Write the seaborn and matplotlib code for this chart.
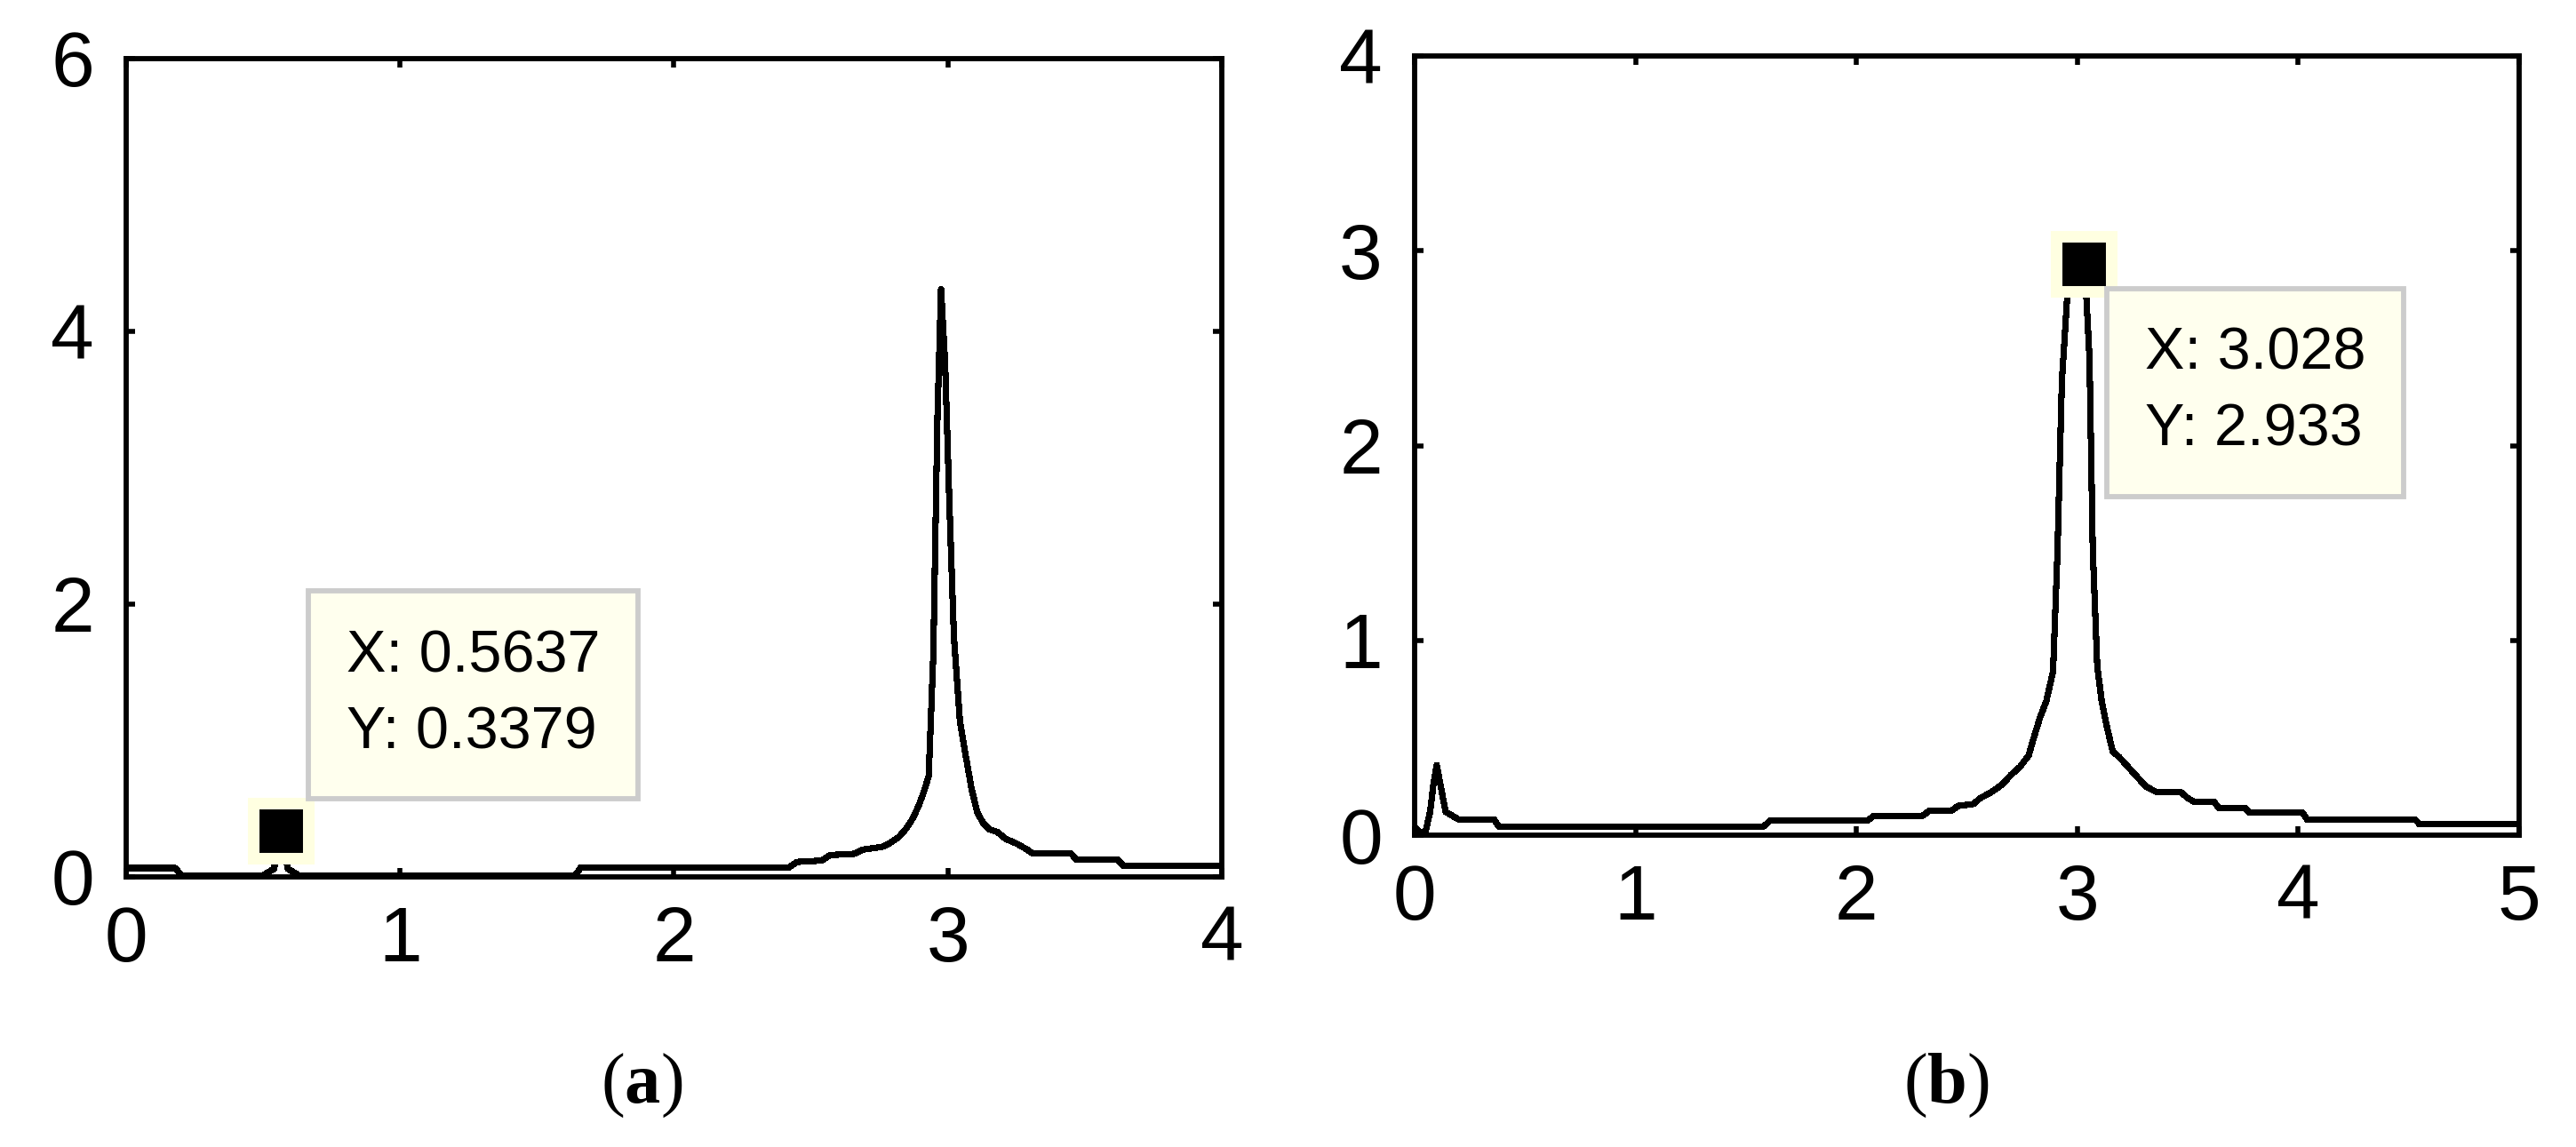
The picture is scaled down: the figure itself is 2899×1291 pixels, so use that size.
import matplotlib
matplotlib.use("Agg")
import matplotlib.pyplot as plt
import pandas as pd
import seaborn as sns

# ---- data ----
# panel (a): spectrum, x 0..4
freq_a = [0.00, 0.18, 0.20, 0.50, 0.54, 0.5637, 0.59, 0.63, 1.64, 1.66,
          2.42, 2.45, 2.54, 2.57, 2.66, 2.69, 2.76, 2.79, 2.82, 2.85,
          2.875, 2.895, 2.915, 2.93, 2.947, 2.962, 2.975, 2.99, 3.005, 3.022,
          3.044, 3.065, 3.087, 3.108, 3.13, 3.15, 3.18, 3.21, 3.25, 3.29,
          3.31, 3.45, 3.47, 3.62, 3.64, 4.00]
amp_a = [0.065, 0.065, 0.012, 0.012, 0.06, 0.3379, 0.06, 0.012, 0.012, 0.07,
         0.07, 0.11, 0.12, 0.16, 0.17, 0.20, 0.22, 0.25, 0.29, 0.36,
         0.44, 0.53, 0.64, 0.74, 1.64, 3.38, 4.31, 3.76, 2.77, 1.76,
         1.14, 0.89, 0.64, 0.47, 0.39, 0.35, 0.33, 0.28, 0.245, 0.20,
         0.17, 0.17, 0.125, 0.125, 0.083, 0.083]
tip_a = (0.5637, 0.3379)

# panel (b): spectrum, x 0..5
freq_b = [0.00, 0.03, 0.05, 0.07, 0.085, 0.10, 0.115, 0.14, 0.17, 0.20,
          0.36, 0.38, 1.58, 1.61, 2.05, 2.08, 2.30, 2.33, 2.43, 2.46,
          2.53, 2.56, 2.61, 2.66, 2.70, 2.74, 2.78, 2.80, 2.83, 2.86,
          2.89, 2.91, 2.93, 2.955, 3.028, 3.04, 3.055, 3.07, 3.09, 3.11,
          3.135, 3.16, 3.19, 3.23, 3.27, 3.31, 3.36, 3.47, 3.50, 3.53,
          3.62, 3.64, 3.76, 3.78, 4.02, 4.04, 4.53, 4.55, 5.00]
amp_b = [0.04, 0.01, 0.02, 0.12, 0.26, 0.36, 0.27, 0.12, 0.10, 0.08,
         0.08, 0.045, 0.045, 0.075, 0.075, 0.10, 0.10, 0.125, 0.125, 0.15,
         0.16, 0.19, 0.22, 0.26, 0.31, 0.35, 0.41, 0.49, 0.60, 0.69,
         0.84, 1.45, 2.33, 2.78, 2.933, 2.78, 2.45, 1.46, 0.87, 0.69,
         0.55, 0.43, 0.40, 0.35, 0.30, 0.25, 0.22, 0.22, 0.19, 0.17,
         0.17, 0.14, 0.14, 0.115, 0.115, 0.08, 0.08, 0.055, 0.055]
tip_b = (3.028, 2.933)

xticks_a = [0, 1, 2, 3, 4]
yticks_a = [0, 2, 4, 6]
xticks_b = [0, 1, 2, 3, 4, 5]
yticks_b = [0, 1, 2, 3, 4]
panel_names = ["a", "b"]

sns.set_theme(style="ticks")
plt.rcParams["font.family"] = ["Liberation Sans", "DejaVu Sans"]
plt.rcParams["mathtext.fontset"] = "custom"
plt.rcParams["mathtext.rm"] = "Liberation Serif"
plt.rcParams["mathtext.bf"] = "Liberation Serif:bold"
plt.rcParams["text.color"] = "black"

fig = plt.figure(figsize=(28.99, 12.91), dpi=100, facecolor="white")
ax_a = fig.add_axes([0.04898, 0.23548, 0.42532, 0.71340])
ax_b = fig.add_axes([0.54916, 0.27188, 0.42877, 0.67932])


def style_axis(ax, xt, yt):
    ax.set_xlim(xt[0], xt[-1])
    ax.set_ylim(yt[0], yt[-1])
    ax.set_xticks(xt)
    ax.set_yticks(yt)
    ax.set_xlabel("")
    ax.set_ylabel("")
    ax.set_facecolor("white")
    ax.grid(False)
    for s in ax.spines.values():
        s.set_visible(True)
        s.set_linewidth(4.2)
        s.set_color("black")
    ax.tick_params(direction="in", length=7, width=4, top=True, right=True,
                   labelsize=63, colors="black")
    ax.tick_params(axis="x", pad=23)
    ax.tick_params(axis="y", pad=26)


def data_tip(ax, tip, offset, va):
    x, y = tip
    ax.plot([x], [y], marker="s", markersize=44.5, mfc="black", mec="#FFFFE1",
            mew=9.4, ls="none", zorder=5, clip_on=False)
    ax.annotate(f"X: {x}\nY: {y}", xy=(x, y), xytext=offset,
                textcoords="offset pixels", ha="left", va=va, fontsize=48,
                family=["Liberation Sans", "DejaVu Sans"], linespacing=1.5,
                color="black", zorder=6, annotation_clip=False,
                bbox=dict(boxstyle="square,pad=0.64", fc="#FFFFEE",
                          ec="#CCCCCC", lw=4.2))


df_a = pd.DataFrame({"freq": freq_a, "amp": amp_a})
df_b = pd.DataFrame({"freq": freq_b, "amp": amp_b})
sns.lineplot(data=df_a, x="freq", y="amp", ax=ax_a, color="black",
             linewidth=4.4, estimator=None, sort=False, antialiased=False)
sns.lineplot(data=df_b, x="freq", y="amp", ax=ax_b, color="black",
             linewidth=4.4, estimator=None, sort=False, antialiased=False)

style_axis(ax_a, xticks_a, yticks_a)
style_axis(ax_b, xticks_b, yticks_b)

data_tip(ax_a, tip_a, (74, 79), "bottom")
data_tip(ax_b, tip_b, (69, -71), "top")

for name, xpos in zip(panel_names, [722 / 2899, 2190 / 2899]):
    fig.text(xpos, 1 - 1222 / 1291,
             r"$\mathrm{(}\mathbf{" + name + r"}\mathrm{)}$",
             ha="center", va="center", fontsize=58, color="black")

fig.savefig("out.png", dpi=100, facecolor="white")
